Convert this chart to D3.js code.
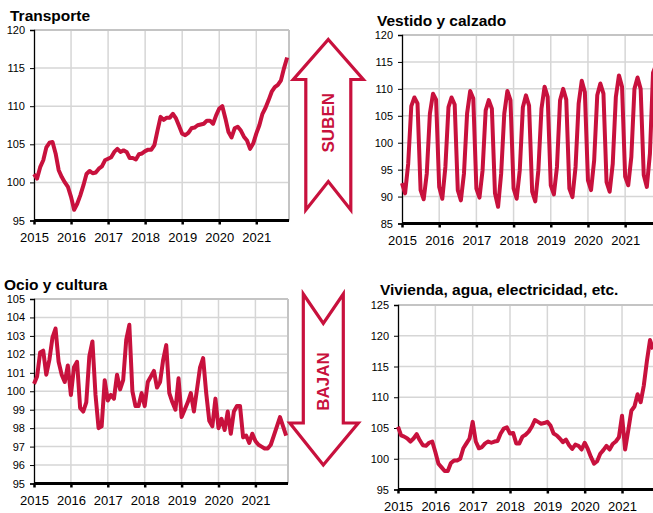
<!DOCTYPE html>
<html>
<head>
<meta charset="utf-8">
<script src="https://cdn.jsdelivr.net/npm/d3@7"></script>
<style>
  body { margin: 0; background: #fff; }
  text { font-family: "Liberation Sans", Arial, sans-serif; }
</style>
</head>
<body>
<div id="chart"></div>
<script>
// monthly index, Jan 2015 .. Nov 2021
var years = [2015, 2016, 2017, 2018, 2019, 2020, 2021];

var transporte = [
  101.1,100.5,102.0,102.9,104.6,105.2,105.3,103.8,101.6,100.7,100.0,99.4,
  98.1,96.4,97.2,98.3,99.6,101.1,101.5,101.2,101.3,101.8,102.1,102.9,
  103.1,103.3,104.0,104.4,104.0,104.2,104.0,103.2,103.2,103.0,103.7,103.8,
  104.1,104.3,104.3,104.9,106.8,108.6,108.2,108.5,108.5,109.0,108.4,107.4,
  106.4,106.2,106.5,107.1,107.2,107.5,107.6,107.7,108.1,108.1,107.7,108.8,
  109.7,110.0,108.4,106.6,105.9,107.1,107.3,106.8,106.0,105.5,104.4,105.1,
  106.4,107.5,109.0,109.8,110.8,111.9,112.5,112.8,113.4,115.0,116.4
];

var vestido = [
  92.5,90.6,96.1,106.8,108.4,107.3,91.2,89.5,94.3,105.4,109.1,108.0,
  91.8,89.6,95.5,106.6,108.4,107.1,91.2,89.3,94.3,105.4,109.6,108.2,
  91.5,89.8,94.9,106.0,107.9,106.3,90.6,88.1,94.3,105.4,109.6,107.9,
  91.5,89.6,94.9,106.6,108.8,106.9,90.9,89.1,94.9,106.3,110.4,108.5,
  92.1,90.4,95.5,107.9,110.0,108.0,91.5,89.9,95.5,107.3,111.5,109.4,
  93.0,91.2,96.7,108.8,111.0,109.1,92.7,90.9,96.1,108.5,112.5,110.4,
  93.7,92.1,97.4,110.0,112.1,110.0,94.0,91.8,98.0,113.0,114.5
];

var ocio = [
  100.4,100.8,102.1,102.2,100.9,101.7,102.9,103.4,101.6,100.9,100.5,101.4,
  99.8,101.3,101.6,99.1,98.9,99.4,101.9,102.7,99.8,98.0,98.1,100.6,
  99.5,99.8,99.6,100.9,100.1,100.6,102.8,103.6,100.0,99.2,99.2,99.9,
  99.2,100.5,100.8,101.1,100.2,100.5,101.7,102.5,99.9,99.4,99.0,100.7,
  98.6,99.0,99.4,99.9,98.9,100.1,101.3,101.8,99.9,98.4,98.1,99.6,
  98.0,98.5,97.9,98.9,97.7,98.9,99.2,99.2,97.5,97.6,97.2,97.7,
  97.3,97.1,97.0,96.9,96.9,97.1,97.6,98.1,98.6,98.1,97.6
];

var vivienda = [
  105.2,103.8,103.6,103.3,102.8,103.3,104.0,103.0,102.2,102.1,102.6,102.8,
  101.1,99.2,98.6,98.0,98.0,99.3,99.7,99.7,100.0,101.7,102.5,103.3,
  106.0,102.8,101.7,101.9,102.5,102.8,102.6,102.8,102.9,104.1,104.9,105.1,
  104.1,104.2,102.5,102.5,103.6,103.9,104.4,105.2,106.3,106.0,105.7,105.8,
  106.0,105.4,104.1,103.8,103.3,102.7,103.1,102.2,101.6,102.3,102.1,101.5,
  102.6,101.6,100.3,99.2,99.6,100.8,101.4,102.1,101.5,102.4,102.8,103.5,
  107.0,101.5,104.6,107.8,108.5,110.5,109.2,111.9,115.9,119.3,117.8
];

var yTicksT = [95, 100, 105, 110, 115, 120];
var yTicksV = [85, 90, 95, 100, 105, 110, 115, 120];
var yTicksO = [95, 96, 97, 98, 99, 100, 101, 102, 103, 104, 105];
var yTicksH = [95, 100, 105, 110, 115, 120, 125];

var red = "#c8113d";
var svg = d3.select("#chart").append("svg")
  .attr("width", 653)
  .attr("height", 513);

function drawPanel(p) {
  var g = svg.append("g");
  var x = d3.scaleLinear().domain([0, 82.6]).range([p.left, p.right]);
  var y = d3.scaleLinear().domain([p.yTicks[0], p.yTicks[p.yTicks.length - 1]]).range([p.bottom, p.top]);
  var yearIdx = years.map(function(d, i) { return i * 12; });

  // grid
  g.selectAll(".hgrid").data(p.yTicks).enter().append("line")
    .attr("x1", p.left).attr("x2", p.right)
    .attr("y1", function(d) { return y(d); }).attr("y2", function(d) { return y(d); })
    .attr("stroke", "#d6d6d6").attr("stroke-width", 1.5);
  g.selectAll(".vgrid").data(yearIdx.slice(1)).enter().append("line")
    .attr("x1", function(d) { return x(d); }).attr("x2", function(d) { return x(d); })
    .attr("y1", p.top).attr("y2", p.bottom)
    .attr("stroke", "#d6d6d6").attr("stroke-width", 1.5);
  // frame right / top
  g.append("line").attr("x1", p.right).attr("x2", p.right).attr("y1", p.top).attr("y2", p.bottom)
    .attr("stroke", "#c4c4c4").attr("stroke-width", 2);
  g.append("line").attr("x1", p.left).attr("x2", p.right).attr("y1", p.top).attr("y2", p.top)
    .attr("stroke", "#c4c4c4").attr("stroke-width", 2);

  // y axis
  var ya = g.append("g")
    .attr("transform", "translate(" + p.left + ",0)")
    .call(d3.axisLeft(y).tickValues(p.yTicks).tickSize(4).tickPadding(5));
  ya.select(".domain").attr("stroke", "#000").attr("stroke-width", 1.3);
  ya.selectAll(".tick line").attr("stroke", "#000");
  ya.selectAll("text").attr("font-size", "11px").attr("fill", "#000")
    .style("font-family", "'Liberation Sans', Arial, sans-serif");

  // x axis
  var xa = g.append("g")
    .attr("transform", "translate(0," + p.bottom + ")")
    .call(d3.axisBottom(x).tickValues(yearIdx).tickSize(4).tickPadding(8)
      .tickFormat(function(d) { return years[d / 12]; }));
  xa.select(".domain").remove();
  xa.selectAll(".tick line").attr("stroke", "#000").attr("stroke-width", 2.5);
  xa.selectAll("text").attr("font-size", "13px").attr("fill", "#000")
    .style("font-family", "'Liberation Sans', Arial, sans-serif");
  g.append("line").attr("x1", p.left).attr("x2", p.right).attr("y1", p.bottom).attr("y2", p.bottom)
    .attr("stroke", "#000").attr("stroke-width", 3);

  // series
  g.append("path")
    .datum(p.data)
    .attr("fill", "none")
    .attr("stroke", red)
    .attr("stroke-width", 4)
    .attr("stroke-linejoin", "round")
    .attr("d", d3.line()
      .x(function(d, i) { return x(i); })
      .y(function(d) { return y(d); }));

  // title
  svg.append("text")
    .attr("x", p.tx).attr("y", p.ty)
    .attr("font-size", "15.5px").attr("font-weight", "bold").attr("fill", "#000")
    .text(p.title);
}

drawPanel({title: "Transporte", data: transporte, yTicks: yTicksT,
  left: 34, right: 289, top: 30, bottom: 220.5, tx: 10, ty: 21});
drawPanel({title: "Vestido y calzado", data: vestido, yTicks: yTicksV,
  left: 402, right: 658, top: 35, bottom: 223.5, tx: 377, ty: 26});
drawPanel({title: "Ocio y cultura", data: ocio, yTicks: yTicksO,
  left: 34, right: 288, top: 299, bottom: 483.5, tx: 4, ty: 290});
drawPanel({title: "Vivienda, agua, electricidad, etc.", data: vivienda, yTicks: yTicksH,
  left: 398, right: 655, top: 305, bottom: 489.5, tx: 380, ty: 295});

// arrows
function arrow(cx, top, bottom, up, label) {
  var hw = 35, sw = 22.5, head = 40, notch = 28.5;
  var pts;
  if (up) {
    pts = [[cx, top], [cx + hw, top + head], [cx + sw, top + head], [cx + sw, bottom],
           [cx, bottom - notch], [cx - sw, bottom], [cx - sw, top + head], [cx - hw, top + head]];
  } else {
    pts = [[cx - 20, top], [cx, top + notch + 1], [cx + 20, top], [cx + 20, bottom - 42],
           [cx + hw, bottom - 42], [cx, bottom], [cx - 33.5, bottom - 42], [cx - 20, bottom - 42]];
  }
  svg.append("path")
    .attr("d", d3.line()(pts) + "Z")
    .attr("fill", "#fff")
    .attr("stroke", red)
    .attr("stroke-width", 3.2)
    .attr("stroke-linejoin", "miter");
  var my = up ? (top + bottom) / 2 - 2 : (top + bottom) / 2 + 2;
  svg.append("text")
    .attr("transform", "translate(" + (cx + 6) + "," + my + ") rotate(-90)")
    .attr("text-anchor", "middle")
    .attr("font-size", "17px").attr("font-weight", "bold").attr("fill", red)
    .text(label);
}
arrow(328.3, 39.5, 210, true, "SUBEN");
arrow(323.3, 294, 465, false, "BAJAN");
</script>
</body>
</html>
